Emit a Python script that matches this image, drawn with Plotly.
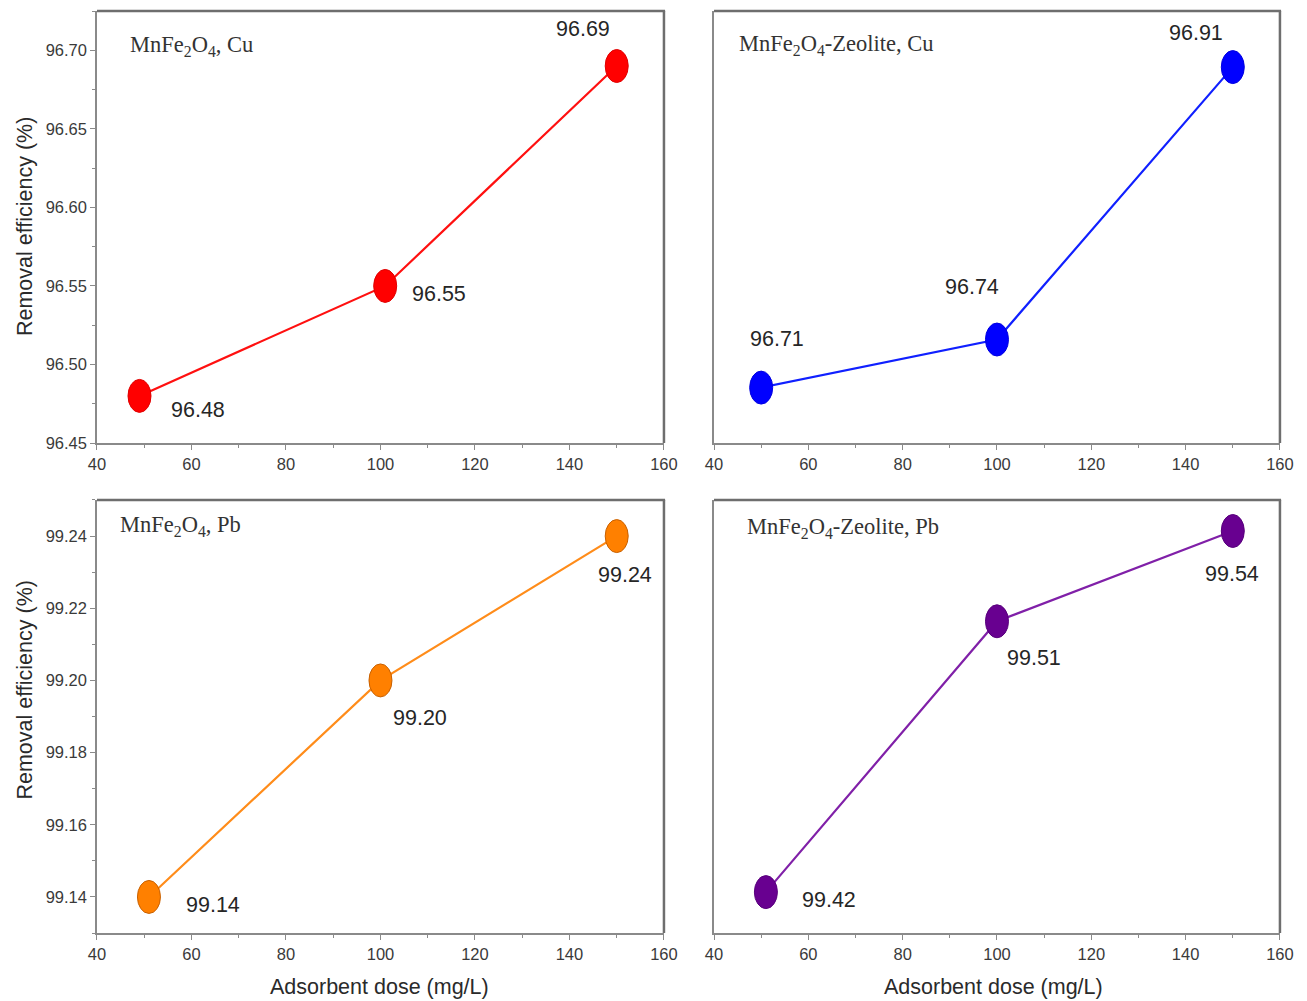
import plotly.graph_objects as go

# Adsorbent dose (mg/L) and removal efficiency (%) for each adsorbent / metal pair
dose_mnfe_cu = [49, 101, 150]
eff_mnfe_cu = [96.48, 96.55, 96.69]

dose_zeo_cu = [50, 100, 150]
eff_zeo_cu = [96.71, 96.74, 96.91]

dose_mnfe_pb = [51, 100, 150]
eff_mnfe_pb = [99.14, 99.20, 99.24]

dose_zeo_pb = [51, 100, 150]
eff_zeo_pb = [99.42, 99.51, 99.54]

panel_titles = [
    "MnFe<sub>2</sub>O<sub>4</sub>, Cu",
    "MnFe<sub>2</sub>O<sub>4</sub>-Zeolite, Cu",
    "MnFe<sub>2</sub>O<sub>4</sub>, Pb",
    "MnFe<sub>2</sub>O<sub>4</sub>-Zeolite, Pb",
]

x_title = "Adsorbent dose (mg/L)"
y_title = "Removal efficiency (%)"

x_ticks = [40, 60, 80, 100, 120, 140, 160]
y_ticks_cu = [96.45, 96.50, 96.55, 96.60, 96.65, 96.70]
y_ticks_pb = [99.14, 99.16, 99.18, 99.20, 99.22, 99.24]

# panel domains in paper coordinates
dom_left = [0.0742, 0.5080]
dom_right = [0.5463, 0.9793]
dom_top = [0.5574, 0.9890]
dom_bot = [0.0679, 0.5005]

panels = [
    dict(x=dose_mnfe_cu, y=eff_mnfe_cu, fill="#FF0000", edge="#E00000", line="#FF1010",
         xd=dom_left, yd=dom_top, yr=[96.45, 96.725], ticks=y_ticks_cu, fmt=".2f",
         offs=[(59, -14), (54, -8), (-34, 37)]),
    dict(x=dose_zeo_cu, y=eff_zeo_cu, fill="#0000FF", edge="#0000E0", line="#1020FF",
         xd=dom_right, yd=dom_top, yr=[96.6754, 96.9450], ticks=None, fmt=None,
         offs=[(16, 49), (-25, 53), (-37, 34)]),
    dict(x=dose_mnfe_pb, y=eff_mnfe_pb, fill="#FF8000", edge="#C86000", line="#FF8C1A",
         xd=dom_left, yd=dom_bot, yr=[99.13, 99.25], ticks=y_ticks_pb, fmt=".2f",
         offs=[(64, -8), (40, -38), (8, -39)]),
    dict(x=dose_zeo_pb, y=eff_zeo_pb, fill="#680090", edge="#58007C", line="#8020A8",
         xd=dom_right, yd=dom_bot, yr=[99.4064, 99.5503], ticks=None, fmt=None,
         offs=[(63, -8), (37, -37), (-1, -43)]),
]

title_pos = [(0.098, 0.954), (0.564, 0.955), (0.090, 0.475), (0.570, 0.473)]

fig = go.Figure()
annotations = []
shapes = []

axis_color = "#8a8a8a"
frame_color = "#6e6e6e"
sans = "Liberation Sans, Arial, sans-serif"
xtick_font = dict(family=sans, size=16.5, color="#3a3a3a")
ytick_font = dict(family=sans, size=16.5, color="#3a3a3a")
title_font = dict(family=sans, size=21.5, color="#2a2a2a")

for i, p in enumerate(panels, start=1):
    xa = "x" if i == 1 else f"x{i}"
    ya = "y" if i == 1 else f"y{i}"

    fig.add_trace(go.Scatter(
        x=p["x"], y=p["y"], mode="lines",
        line=dict(color=p["line"], width=2.2),
        xaxis=xa, yaxis=ya, showlegend=False, hoverinfo="skip",
    ))

    # elliptical markers anchored at each data point
    for xv, yv in zip(p["x"], p["y"]):
        shapes.append(dict(
            type="circle", xref=xa, yref=ya,
            xsizemode="pixel", ysizemode="pixel",
            xanchor=xv, yanchor=yv,
            x0=-11.5, x1=11.5, y0=-16.5, y1=16.5,
            fillcolor=p["fill"], line=dict(color=p["edge"], width=1),
            layer="above",
        ))

    # value labels
    for (xv, yv), (dx, dy) in zip(zip(p["x"], p["y"]), p["offs"]):
        annotations.append(dict(
            x=xv, y=yv, xref=xa, yref=ya, text=f"{yv:.2f}", showarrow=False,
            xshift=dx, yshift=dy,
            font=dict(family=sans, size=21.5, color="#262626"),
        ))

    # darker top/right frame
    dom_x = f"{xa} domain"
    dom_y = f"{ya} domain"
    shapes.append(dict(type="line", xref=dom_x, yref=dom_y, x0=0, x1=1.002, y0=1, y1=1,
                       line=dict(color=frame_color, width=2.5), layer="above"))
    shapes.append(dict(type="line", xref=dom_x, yref=dom_y, x0=1, x1=1, y0=0, y1=1,
                       line=dict(color=frame_color, width=2.5), layer="above"))

    xkey = "xaxis" if i == 1 else f"xaxis{i}"
    ykey = "yaxis" if i == 1 else f"yaxis{i}"
    fig.update_layout(**{
        xkey: dict(
            domain=p["xd"], anchor=ya, range=[40, 160], automargin=False,
            tickmode="array", tickvals=x_ticks, ticktext=[str(t) for t in x_ticks],
            ticks="outside", ticklen=5, tickcolor=axis_color, tickwidth=1,
            minor=dict(ticks="outside", ticklen=3, tickcolor=axis_color, dtick=10, tick0=40),
            showline=True, linecolor=axis_color, linewidth=1.5,
            showgrid=False, zeroline=False, tickfont=xtick_font,
        ),
        ykey: dict(
            domain=p["yd"], anchor=xa, range=p["yr"], automargin=False,
            showline=True, linecolor=axis_color, linewidth=1.5,
            showgrid=False, zeroline=False, tickfont=ytick_font,
        ),
    })
    if p["ticks"] is not None:
        step = p["ticks"][1] - p["ticks"][0]
        fig.update_layout(**{ykey: dict(
            tickmode="array", tickvals=p["ticks"],
            ticktext=[f"{t:{p['fmt']}}" for t in p["ticks"]],
            ticks="outside", ticklen=5, tickcolor=axis_color, tickwidth=1,
            minor=dict(ticks="outside", ticklen=3, tickcolor=axis_color,
                       dtick=step / 2, tick0=p["ticks"][0]),
        )})
    else:
        fig.update_layout(**{ykey: dict(showticklabels=False, ticks="")})

    tx, ty = title_pos[i - 1]
    annotations.append(dict(
        x=tx, y=ty, xref="paper", yref="paper", xanchor="left", yanchor="middle",
        text=panel_titles[i - 1], showarrow=False,
        font=dict(family="Liberation Serif, Times New Roman, serif", size=22.5, color="#333333"),
    ))

# shared axis titles
for cx in (0.2907, 0.7598):
    annotations.append(dict(x=cx, y=0.014, xref="paper", yref="paper", text=x_title,
                            showarrow=False, xanchor="center", yanchor="middle",
                            font=title_font))
for cy in (0.774, 0.311):
    annotations.append(dict(x=0.019, y=cy, xref="paper", yref="paper", text=y_title,
                            showarrow=False, textangle=-90, xanchor="center",
                            yanchor="middle", font=title_font))

fig.update_layout(
    width=1307, height=1001,
    margin=dict(l=0, r=0, t=0, b=0),
    paper_bgcolor="white", plot_bgcolor="white",
    annotations=annotations, shapes=shapes,
)

fig.write_html("out.html")
